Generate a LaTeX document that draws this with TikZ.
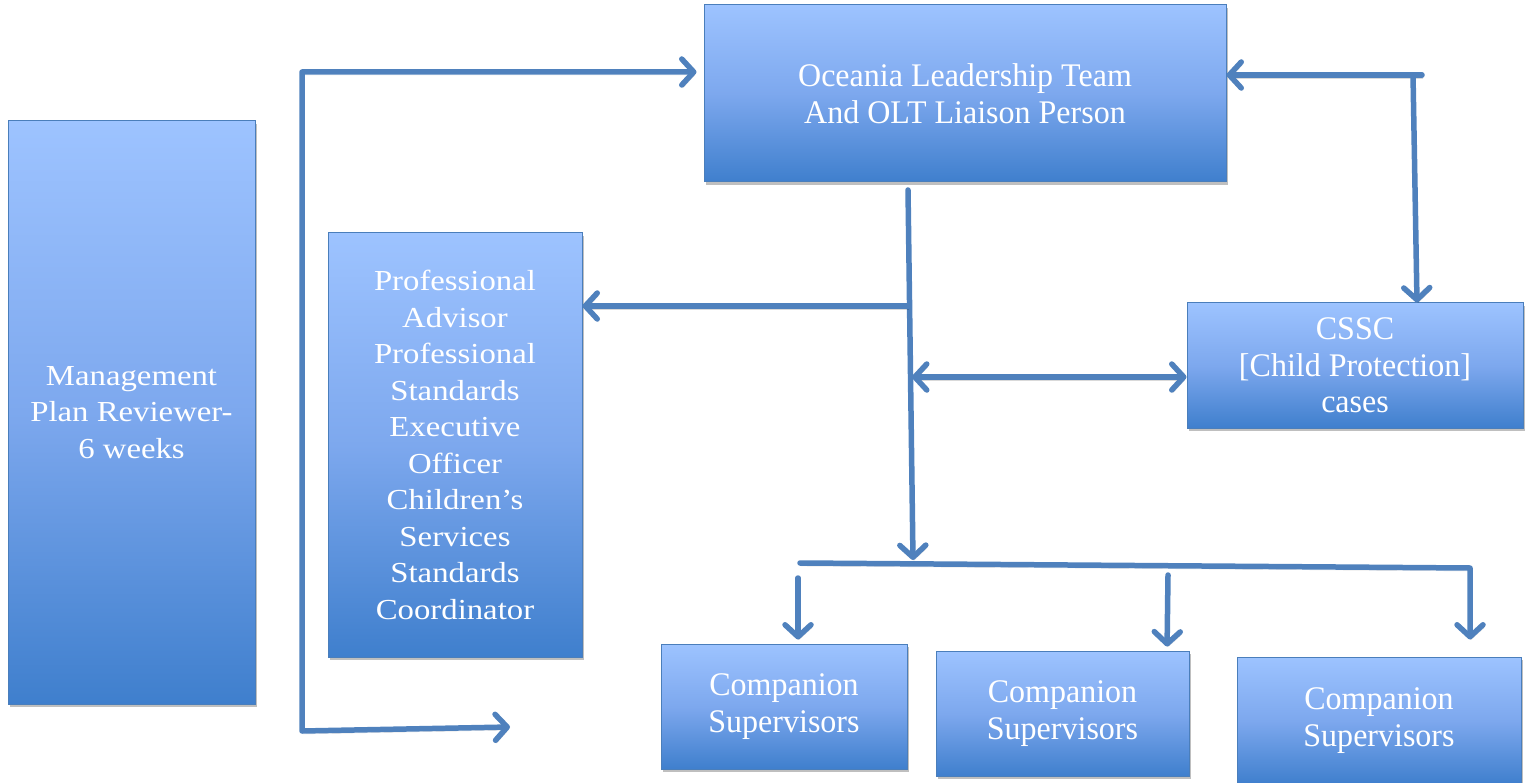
\documentclass[tikz,border=0pt]{standalone}
\usepackage{fontspec}
\setmainfont{Liberation Serif}[FakeStretch=1.13]
\newfontfamily\condf{Liberation Serif}[FakeStretch=0.97]
\usetikzlibrary{arrows.meta,shadows}
\definecolor{lineblue}{HTML}{4F81BD}
\definecolor{edgeblue}{HTML}{4A7EBB}
\definecolor{boxtop}{HTML}{9DC3FF}
\definecolor{boxmid}{HTML}{7DA8EE}
\definecolor{boxbot}{HTML}{3F7FCD}
\tikzset{
  box/.style={draw=edgeblue, line width=1pt, top color=boxtop, bottom color=boxbot,
    middle color=boxmid, text=white, align=center, inner sep=0pt,
    drop shadow={shadow xshift=2pt, shadow yshift=-3pt, fill=black, opacity=0.25}},
  wide/.style={font=\fontsize{29pt}{36.5pt}\selectfont},
  narrow/.style={font=\condf\fontsize{33pt}{36.5pt}\selectfont},
  tip/.tip={Straight Barb[length=12pt, width=26pt, line cap=round, line join=round]},
  conn/.style={draw=lineblue, line width=5.5pt, line cap=round, line join=round,
    preaction={draw=black, opacity=0.15, transform canvas={xshift=1pt, yshift=-3pt}}},
}
\begin{document}
\begin{tikzpicture}[x=1pt, y=-1pt]
\useasboundingbox (0,0) rectangle (1530,783);

% boxes
\node[box, wide, minimum width=247pt, minimum height=583pt] (mgmt) at (131.5,412.5)
  {Management\\Plan Reviewer-\\6 weeks};
\node[box, wide, minimum width=254pt, minimum height=424pt] (prof) at (455,445)
  {Professional\\Advisor\\Professional\\Standards\\Executive\\Officer\\Children’s\\Services\\Standards\\Coordinator};
\node[box, narrow, minimum width=522pt, minimum height=177pt] (olt) at (965,93.5)
  {Oceania Leadership Team\\And OLT Liaison Person};
\node[box, narrow, minimum width=336pt, minimum height=125pt] (cssc) at (1355,365.5)
  {CSSC\\{[}Child Protection{]}\\cases};
\node[box, narrow, minimum width=246pt, minimum height=125pt] (comp1) at (784,706.5)
  {Companion\\Supervisors};
\node[box, narrow, minimum width=253pt, minimum height=125pt] (comp2) at (1062.5,713.5)
  {Companion\\Supervisors};
\node[box, narrow, minimum width=284pt, minimum height=127pt] (comp3) at (1379,720.5)
  {Companion\\Supervisors};

% junction and end points of the connectors
\coordinate (lt) at (302,72);
\coordinate (lb) at (302,731);
\coordinate (lend) at (510,727);
\coordinate (rt) at (1422,75);
\coordinate (rv) at (1413,75);
\coordinate (vtop) at (908,190);
\coordinate (vbot) at (913,560);
\coordinate (jp) at (908,306);
\coordinate (jc) at (912,377);
\coordinate (busl) at (800,563);
\coordinate (busr) at (1470,568);
\coordinate (d1) at (798,578);
\coordinate (d2) at (1168,575);

% left bracket: reviewer links to the leadership team
\draw[conn, {tip}-{tip}] (lend) -- (lb) -- (lt) -- ([xshift=-7pt]olt.west |- lt);

% leadership team and CSSC
\draw[conn, -{tip}] (rt) -- (olt.east |- rt);
\draw[conn, -{tip}] (rv) -- (1417,0 |- cssc.north);

% main trunk from the leadership team
\draw[conn, -{tip}] (vtop) -- (vbot);
\draw[conn, -{tip}] (jp) -- (prof.east |- jp);
\draw[conn, {tip}-{tip}] (jc) -- (cssc.west |- jc);

% distribution bar to the companion supervisors
\draw[conn, -{tip}, shorten >=17pt] (busl) -- (busr) -- (busr |- comp3.north);
\draw[conn, -{tip}, shorten >=4pt] (d1) -- (d1 |- comp1.north);
\draw[conn, -{tip}, shorten >=4pt] (d2) -- (1167,0 |- comp2.north);
\end{tikzpicture}
\end{document}
